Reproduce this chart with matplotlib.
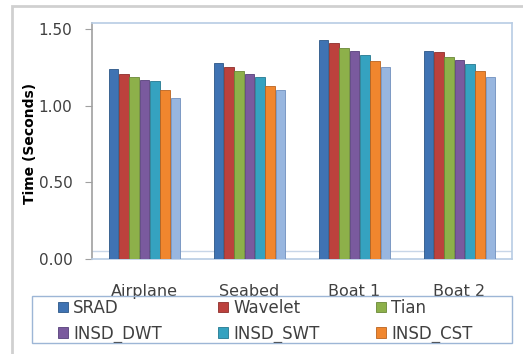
import numpy as np
import matplotlib.pyplot as plt
from matplotlib.patches import Rectangle

# images and methods
images = ['Airplane', 'Seabed', 'Boat 1', 'Boat 2']
methods = ['SRAD', 'Wavelet', 'Tian', 'INSD_DWT', 'INSD_SWT', 'INSD_CST', 'Proposed']

# run time in seconds, one list per method
srad = [1.24, 1.28, 1.43, 1.36]
wavelet = [1.21, 1.25, 1.41, 1.35]
tian = [1.19, 1.23, 1.38, 1.32]
insd_dwt = [1.17, 1.21, 1.36, 1.30]
insd_swt = [1.16, 1.19, 1.33, 1.27]
insd_cst = [1.10, 1.13, 1.29, 1.23]
proposed = [1.05, 1.10, 1.25, 1.19]

colors = ['#3f73b3', '#bc413d', '#8db04a', '#7a5a9e', '#35a2c0', '#f0862e', '#98b6df']
edges = ['#2c5687', '#8d2e2b', '#6a8837', '#56407a', '#23788f', '#b9631f', '#6f8fbd']

series = [srad, wavelet, tian, insd_dwt, insd_swt, insd_cst, proposed]

fig = plt.figure(figsize=(5.23, 3.54), dpi=100)
ax = fig.add_axes([92 / 523, 95 / 354, 420 / 523, 236 / 354])

x = np.arange(len(images))
w = 0.098
bars = []
for i, vals in enumerate(series):
    b = ax.bar(x + (i - 3) * w, vals, w * 0.92, color=colors[i],
               edgecolor=edges[i], linewidth=0.6, zorder=3)
    bars.append(b)

ax.set_xlim(-0.5, 3.5)
ax.set_ylim(0, 1.54)
ax.set_yticks([0, 0.5, 1.0, 1.5])
ax.set_yticklabels(['0.00', '0.50', '1.00', '1.50'], fontsize=11, color='#404040')
ax.set_xticks(x)
ax.set_xticklabels(images, fontsize=11.5, color='#404040')
ax.tick_params(axis='x', length=0, pad=18)
ax.tick_params(axis='y', length=5, color='#a0a0a0', pad=9)

for s in ['top', 'right', 'bottom']:
    ax.spines[s].set_color('#b8cce4')
    ax.spines[s].set_linewidth(1.2)
ax.spines['left'].set_color('#a0a0a0')
ax.spines['left'].set_linewidth(1.2)

# floor of the chart
ax.axhline(0.05, color='#c8d6e8', linewidth=1.0, zorder=2)

ax.set_ylabel('Time (Seconds)', fontsize=10, fontweight='bold')
ax.yaxis.set_label_coords(-0.13, 0.49)

# legend laid out row by row, six methods
order = [0, 3, 1, 4, 2, 5]
leg = ax.legend([bars[k] for k in order], [methods[k] for k in order],
                ncol=3, loc='upper left', bbox_to_anchor=(58 / 523, 1 - 299 / 354),
                bbox_transform=fig.transFigure, fontsize=12,
                frameon=False, borderpad=0, labelspacing=0.45, columnspacing=3.4,
                handlelength=0.6, handleheight=0.6, handletextpad=0.3, borderaxespad=0)
for t in leg.get_texts():
    t.set_color('#404040')

# legend box
fig.patches.append(Rectangle((32 / 523, 1 - 343 / 354), 480 / 523, 47 / 354,
                             transform=fig.transFigure, fill=False,
                             edgecolor='#9db6d6', linewidth=1.0))

# outer chart border
fig.patches.append(Rectangle((12 / 523, -0.1), 1.2, 1 - 6 / 354 + 0.1,
                             transform=fig.transFigure, fill=False,
                             edgecolor='#d0d0d0', linewidth=2))

fig.savefig('out.png', dpi=100)
